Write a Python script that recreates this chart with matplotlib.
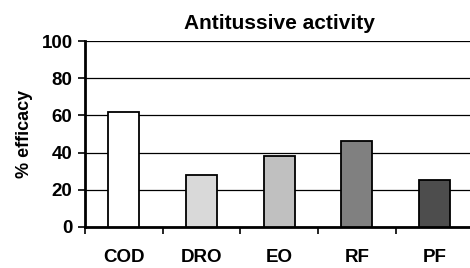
import numpy as np
import matplotlib.pyplot as plt

categories = ["COD", "DRO", "EO", "RF", "PF"]
efficacy = [62, 28, 38, 46, 25]
colors = ["#ffffff", "#d9d9d9", "#c0c0c0", "#808080", "#4d4d4d"]

plt.rcParams["font.family"] = ["Liberation Sans", "DejaVu Sans"]
plt.rcParams["font.weight"] = "bold"

fig = plt.figure(figsize=(4.7, 2.68), dpi=100)
ax = fig.add_axes([0.181, 0.153, 0.826, 0.694])

x = np.arange(len(categories))
ax.bar(x, efficacy, width=0.4, color=colors, edgecolor="black", linewidth=1.3, zorder=3)

ax.set_xlim(-0.5, len(categories) - 0.5)
ax.set_ylim(0, 100)
ax.set_yticks(range(0, 101, 20))
ax.yaxis.grid(True, color="black", linewidth=0.9, zorder=0)
ax.set_axisbelow(True)

ax.set_xticks(x)
ax.set_xticklabels(categories, fontsize=13.5, fontweight="bold")
ax.set_xticks(np.arange(-0.5, len(categories), 1), minor=True)
ax.tick_params(axis="x", which="major", length=0, pad=16)
ax.tick_params(axis="x", which="minor", length=5, width=1.2, direction="out")
ax.tick_params(axis="y", length=5, width=1.2, direction="out", labelsize=13.5, pad=4)
for lab in ax.get_yticklabels():
    lab.set_fontweight("bold")

for side in ["top", "right"]:
    ax.spines[side].set_visible(False)
ax.spines["left"].set_linewidth(2)
ax.spines["bottom"].set_linewidth(2)

ax.set_ylabel("% efficacy", fontsize=13, fontweight="bold", labelpad=6)
ax.set_title("Antitussive activity", fontsize=15, fontweight="bold", pad=9)

fig.savefig("out.png", dpi=100)
